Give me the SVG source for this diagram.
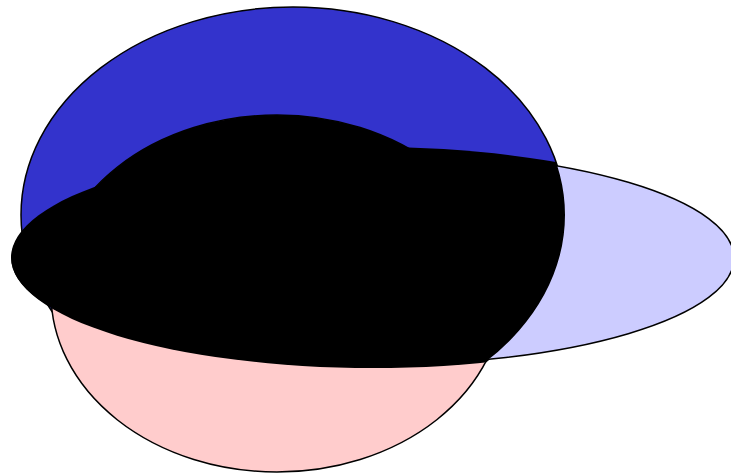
<svg xmlns="http://www.w3.org/2000/svg" width="731" height="475" viewBox="0 0 731 475">
<defs>
<clipPath id="clipBlue"><ellipse cx="293" cy="215" rx="272" ry="208"/><rect x="0" y="0" width="293" height="475"/></clipPath>
<clipPath id="clipUpper"><rect x="0" y="0" width="731" height="260"/></clipPath>
</defs>
<style>
.set{stroke:#000;stroke-width:1.5}
</style>
<rect x="0" y="0" width="731" height="475" fill="#fff"/>
<g id="setA"><ellipse class="set" cx="293" cy="215" rx="272" ry="208" fill="#3333cc"/></g>
<g id="setB"><ellipse class="set" cx="277" cy="293.5" rx="226" ry="178.5" fill="#ffcccc"/></g>
<g id="setC"><ellipse class="set" cx="373" cy="258" rx="361" ry="107" fill="#ccccff"/></g>
<g id="overlap" clip-path="url(#clipBlue)" fill="#000">
<ellipse cx="373" cy="257.5" rx="362" ry="110.5"/>
<ellipse cx="277" cy="293.5" rx="226" ry="178.5" clip-path="url(#clipUpper)"/>
</g>
</svg>
